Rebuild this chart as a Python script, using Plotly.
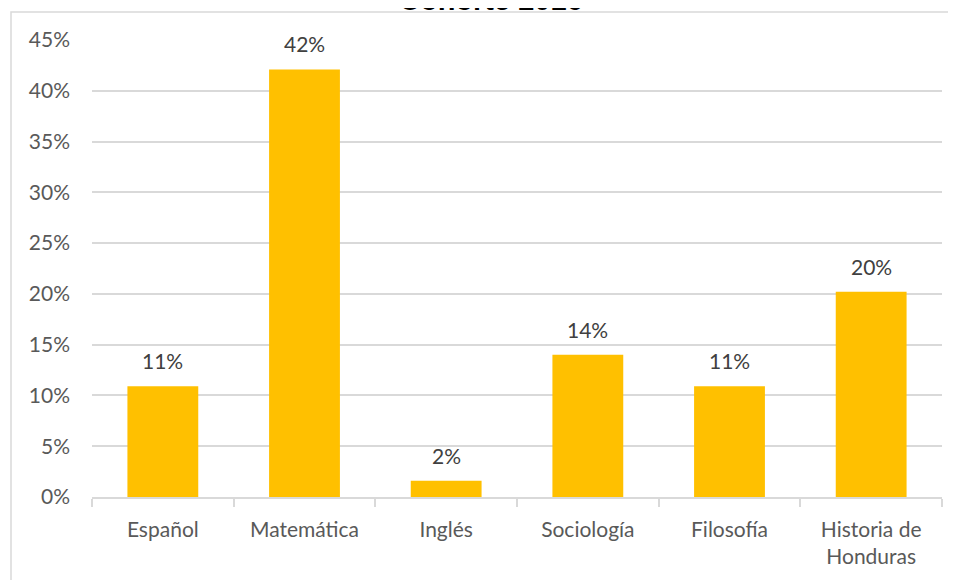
import plotly.graph_objects as go

categories = ["Español", "Matemática", "Inglés", "Sociología", "Filosofía", "Historia de<br>Honduras"]
values = [0.109, 0.421, 0.016, 0.140, 0.109, 0.202]
y_ticks = [0, 0.05, 0.10, 0.15, 0.20, 0.25, 0.30, 0.35, 0.40, 0.45]
y_tick_labels = ["0%", "5%", "10%", "15%", "20%", "25%", "30%", "35%", "40%", "45%"]
title_text = "Cohorte 2016"

# page is rendered with an 8px body margin
OFF = 8
W, H = 956 - OFF, 580 - OFF
PL, PT, PR, PB = 92, 40, 942, 497          # plot area in page pixels
L, T = PL - OFF, PT - OFF
R = (956) - PR
B = 580 - PB
pw, ph = PR - PL, PB - PT

def px_x(x):
    return (x - PL) / pw

def px_y(y):
    return (PB - y) / ph

FONT = "Lato, Open Sans, sans-serif"

fig = go.Figure()
fig.add_trace(go.Bar(
    x=categories, y=values,
    marker=dict(color="#FFC000", line=dict(width=0)),
    width=0.5,
))

for c, v in zip(categories, values):
    fig.add_annotation(
        x=c, y=v, xref="x", yref="y", text=f"{v:.0%}", showarrow=False,
        yanchor="bottom", yshift=11,
        font=dict(family=FONT, size=21, color="#404040"),
    )

fig.add_annotation(
    x=px_x(491), y=px_y(0), xref="paper", yref="paper",
    text="<b>" + title_text + "</b>", showarrow=False,
    xanchor="center", yanchor="middle",
    font=dict(family="Liberation Sans, Arial, sans-serif", size=29, color="black"),
)

fig.update_layout(
    width=W, height=H,
    margin=dict(l=L, r=R, t=T, b=B, autoexpand=False),
    plot_bgcolor="white", paper_bgcolor="white",
    showlegend=False,
    font=dict(family=FONT, size=21, color="#595959"),
    xaxis=dict(
        showline=True, linecolor="#d9d9d9", linewidth=1.5,
        ticks="outside", tickson="boundaries", ticklen=8, tickcolor="#d9d9d9", tickwidth=1.5,
        showgrid=False, tickfont=dict(family=FONT, size=21, color="#595959"),
        ticklabelstandoff=13,
    ),
    yaxis=dict(
        range=[0, 0.45], tickvals=y_ticks, ticktext=y_tick_labels,
        showgrid=True, gridcolor="#d9d9d9", gridwidth=1.5,
        zeroline=False, showline=False, ticks="",
        tickfont=dict(family=FONT, size=21, color="#595959"), ticklabelstandoff=21,
    ),
    shapes=[dict(type="rect", xref="paper", yref="paper",
                 x0=px_x(11), x1=px_x(975), y0=px_y(600), y1=px_y(12),
                 line=dict(color="#d9d9d9", width=1.5), fillcolor="rgba(0,0,0,0)", layer="below")],
)

fig.write_html("out.html")
